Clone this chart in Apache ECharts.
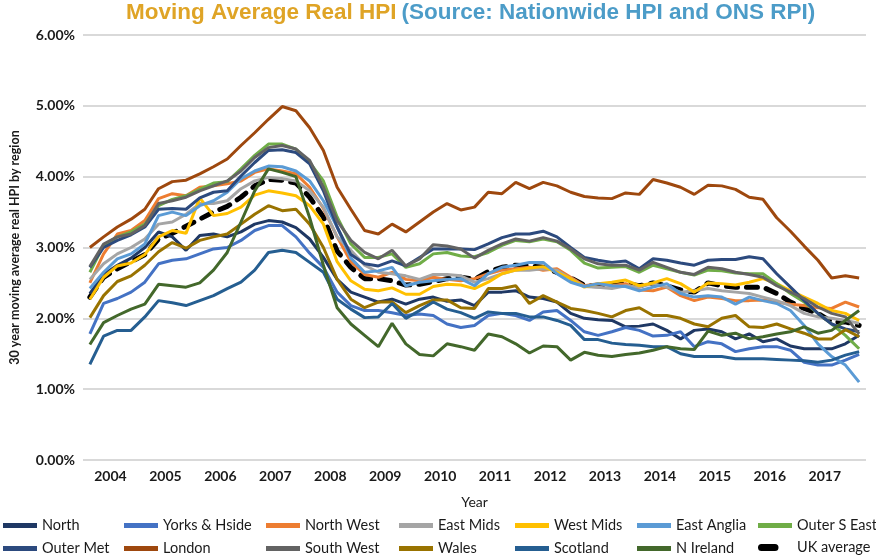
<!DOCTYPE html>
<html>
<head>
<meta charset="utf-8">
<script src="https://cdn.jsdelivr.net/npm/echarts@6/dist/echarts.min.js"></script>
<style>
  html, body { margin: 0; padding: 0; background: #ffffff; }
  #chart { width: 876px; height: 555px; }
</style>
</head>
<body>
<div id="chart"></div>
<script>
// Quarters (category labels)
const quarters = [
  '2004Q1','2004Q2','2004Q3','2004Q4','2005Q1','2005Q2','2005Q3','2005Q4',
  '2006Q1','2006Q2','2006Q3','2006Q4','2007Q1','2007Q2','2007Q3','2007Q4',
  '2008Q1','2008Q2','2008Q3','2008Q4','2009Q1','2009Q2','2009Q3','2009Q4',
  '2010Q1','2010Q2','2010Q3','2010Q4','2011Q1','2011Q2','2011Q3','2011Q4',
  '2012Q1','2012Q2','2012Q3','2012Q4','2013Q1','2013Q2','2013Q3','2013Q4',
  '2014Q1','2014Q2','2014Q3','2014Q4','2015Q1','2015Q2','2015Q3','2015Q4',
  '2016Q1','2016Q2','2016Q3','2016Q4','2017Q1','2017Q2','2017Q3','2017Q4',
  '2018Q1'
];
const yearLabels = [2004,2005,2006,2007,2008,2009,2010,2011,2012,2013,2014,2015,2016,2017];
const yTicks = [0,1,2,3,4,5,6];

// Series values (% real HPI, 30-year moving average)
const north = [2.35,2.62,2.75,2.85,3.00,3.22,3.15,2.96,3.17,3.19,3.15,3.22,3.33,3.38,3.36,3.28,3.12,2.86,2.55,2.37,2.30,2.23,2.27,2.20,2.27,2.30,2.24,2.26,2.18,2.37,2.37,2.39,2.30,2.28,2.23,2.07,2.00,1.98,1.97,1.88,1.89,1.92,1.83,1.71,1.83,1.85,1.81,1.71,1.78,1.67,1.71,1.61,1.57,1.57,1.57,1.64,1.76];
const yorks = [1.78,2.21,2.28,2.37,2.51,2.77,2.82,2.84,2.91,2.98,3.00,3.10,3.24,3.31,3.31,3.15,2.92,2.72,2.37,2.18,2.11,2.11,2.08,2.04,2.06,2.04,1.92,1.87,1.90,2.04,2.07,2.04,1.97,2.09,2.11,1.97,1.81,1.76,1.81,1.87,1.83,1.75,1.76,1.81,1.60,1.67,1.64,1.53,1.57,1.60,1.60,1.55,1.38,1.34,1.34,1.41,1.49];
const northWest = [2.50,2.91,3.19,3.24,3.38,3.69,3.76,3.73,3.85,3.87,3.90,3.94,4.06,4.11,4.08,4.04,3.85,3.55,3.15,2.80,2.62,2.58,2.65,2.55,2.53,2.58,2.55,2.53,2.56,2.63,2.68,2.70,2.72,2.68,2.70,2.58,2.46,2.49,2.46,2.49,2.40,2.39,2.44,2.32,2.25,2.30,2.28,2.25,2.25,2.26,2.23,2.20,2.18,2.15,2.14,2.23,2.16];
const eastMids = [2.55,2.77,2.91,3.00,3.12,3.33,3.36,3.47,3.62,3.62,3.66,3.83,3.94,3.99,3.97,3.94,3.80,3.57,3.15,2.96,2.75,2.65,2.63,2.60,2.55,2.62,2.62,2.60,2.51,2.56,2.63,2.68,2.68,2.70,2.68,2.56,2.45,2.44,2.42,2.46,2.44,2.49,2.44,2.37,2.39,2.42,2.39,2.37,2.35,2.30,2.25,2.18,2.07,2.02,2.00,1.97,1.93];
const westMids = [2.27,2.58,2.74,2.78,2.90,3.15,3.24,3.20,3.70,3.45,3.48,3.57,3.74,3.80,3.77,3.73,3.59,3.33,2.80,2.53,2.41,2.39,2.43,2.34,2.34,2.45,2.48,2.47,2.42,2.51,2.63,2.68,2.71,2.73,2.65,2.56,2.44,2.49,2.51,2.54,2.46,2.50,2.56,2.49,2.37,2.50,2.49,2.47,2.51,2.56,2.49,2.39,2.30,2.21,2.11,2.07,1.97];
const eastAnglia = [2.42,2.65,2.84,2.91,3.05,3.45,3.50,3.45,3.59,3.66,3.78,3.97,4.08,4.15,4.14,4.08,3.94,3.66,3.29,2.85,2.65,2.67,2.72,2.46,2.51,2.53,2.55,2.56,2.46,2.63,2.72,2.75,2.79,2.79,2.63,2.51,2.45,2.49,2.46,2.45,2.39,2.44,2.49,2.35,2.30,2.32,2.30,2.20,2.30,2.25,2.21,2.11,1.90,1.64,1.46,1.34,1.10];
const outerSEast = [2.65,3.03,3.15,3.22,3.33,3.59,3.68,3.73,3.82,3.91,3.93,4.11,4.30,4.46,4.46,4.39,4.20,3.94,3.43,3.05,2.86,2.86,2.91,2.72,2.77,2.91,2.93,2.88,2.87,2.93,3.03,3.10,3.08,3.12,3.08,2.96,2.78,2.71,2.72,2.73,2.65,2.75,2.70,2.65,2.61,2.68,2.67,2.64,2.63,2.63,2.49,2.35,2.23,2.07,1.92,1.76,1.57];
const outerMet = [2.72,3.00,3.10,3.18,3.29,3.54,3.55,3.54,3.70,3.78,3.80,4.01,4.20,4.37,4.38,4.34,4.18,3.80,3.29,2.90,2.77,2.74,2.81,2.74,2.86,2.98,2.98,2.98,2.97,3.05,3.14,3.19,3.19,3.23,3.15,3.00,2.86,2.82,2.79,2.81,2.70,2.84,2.82,2.78,2.75,2.82,2.83,2.83,2.87,2.84,2.63,2.44,2.25,2.07,1.92,1.85,1.81];
const london = [3.00,3.15,3.29,3.40,3.54,3.83,3.93,3.95,4.04,4.14,4.25,4.44,4.62,4.81,4.99,4.93,4.69,4.37,3.85,3.54,3.24,3.19,3.33,3.22,3.36,3.50,3.62,3.53,3.57,3.78,3.76,3.92,3.83,3.92,3.87,3.78,3.72,3.70,3.69,3.77,3.75,3.96,3.91,3.85,3.75,3.88,3.87,3.82,3.71,3.68,3.42,3.23,3.02,2.82,2.57,2.60,2.57];
const southWest = [2.73,3.05,3.15,3.19,3.31,3.62,3.66,3.71,3.80,3.87,3.94,4.08,4.27,4.41,4.44,4.39,4.23,3.85,3.38,3.10,2.93,2.84,2.96,2.74,2.84,3.04,3.02,2.98,2.85,2.96,3.05,3.12,3.09,3.14,3.09,2.98,2.84,2.77,2.75,2.75,2.68,2.79,2.72,2.65,2.62,2.72,2.70,2.65,2.62,2.58,2.46,2.37,2.28,2.16,2.07,2.02,1.78];
const wales = [2.01,2.32,2.52,2.60,2.75,2.94,3.07,2.99,3.10,3.15,3.19,3.33,3.47,3.59,3.52,3.54,3.33,3.00,2.55,2.27,2.15,2.23,2.23,2.08,2.18,2.26,2.26,2.15,2.14,2.42,2.42,2.46,2.21,2.32,2.23,2.14,2.11,2.07,2.02,2.11,2.15,2.04,2.04,2.00,1.92,1.88,2.00,2.04,1.88,1.87,1.92,1.85,1.79,1.71,1.71,1.84,1.74];
const scotland = [1.35,1.75,1.83,1.83,2.02,2.25,2.22,2.18,2.25,2.32,2.42,2.51,2.68,2.93,2.96,2.93,2.79,2.65,2.27,2.13,2.01,2.02,2.21,2.00,2.11,2.23,2.13,2.08,2.00,2.09,2.07,2.07,2.02,2.02,1.97,1.90,1.70,1.70,1.65,1.63,1.62,1.60,1.60,1.50,1.46,1.46,1.46,1.43,1.43,1.43,1.42,1.41,1.40,1.38,1.41,1.48,1.53];
const nIreland = [1.63,1.94,2.04,2.13,2.20,2.48,2.46,2.44,2.50,2.68,2.93,3.36,3.80,4.11,4.06,4.00,3.42,2.75,2.15,1.92,1.76,1.60,1.93,1.64,1.49,1.47,1.64,1.60,1.55,1.78,1.74,1.64,1.51,1.61,1.60,1.41,1.52,1.48,1.46,1.49,1.51,1.55,1.60,1.57,1.56,1.82,1.76,1.79,1.71,1.74,1.78,1.81,1.88,1.79,1.83,1.97,2.11];
const ukAverage = [2.30,2.58,2.70,2.80,2.90,3.12,3.20,3.30,3.40,3.50,3.58,3.71,3.87,3.96,3.95,3.91,3.71,3.43,2.95,2.72,2.56,2.56,2.53,2.47,2.48,2.52,2.56,2.58,2.55,2.66,2.72,2.75,2.74,2.72,2.65,2.57,2.47,2.46,2.46,2.49,2.46,2.50,2.46,2.40,2.37,2.50,2.46,2.44,2.44,2.44,2.35,2.23,2.14,2.07,1.95,1.95,1.90];

const seriesNames = ['North','Yorks & Hside','North West','East Mids','West Mids','East Anglia','Outer S East',
                     'Outer Met','London','South West','Wales','Scotland','N Ireland','UK average'];
const seriesValues = [north, yorks, northWest, eastMids, westMids, eastAnglia, outerSEast,
                      outerMet, london, southWest, wales, scotland, nIreland, ukAverage];
const seriesColors = ['#1F3864','#4472C4','#ED7D31','#A5A5A5','#FFC000','#5B9BD5','#70AD47',
                      '#2C4A7E','#9E480E','#636363','#997300','#255E91','#43682B','#000000'];

// quarter label -> x position on a continuous year scale (centre of the quarter)
function quarterX(q) {
  const y = parseInt(q.slice(0, 4), 10);
  const n = parseInt(q.slice(5), 10);
  return y + (n - 1) / 4 + 0.125;
}

const FONT = 'Lato';

const series = seriesNames.map((name, k) => {
  const isUK = name === 'UK average';
  return {
    name: name,
    type: 'line',
    data: seriesValues[k].map((v, i) => [quarterX(quarters[i]), v]),
    symbol: 'none',
    smooth: false,
    color: seriesColors[k],
    lineStyle: isUK
      ? { width: 5, type: [11, 9], cap: 'round', color: '#000' }
      : { width: 3, color: seriesColors[k] },
    z: 2
  };
});
// UK average is drawn underneath the regional lines
const ukSeries = series.pop();
series.unshift(ukSeries);

// Legend: one component per item so columns align as in the reference
const colText = [42, 163, 305, 438, 554, 676, 797];
const rowTop = [518, 541];
const legends = seriesNames.map((name, k) => {
  const col = k % 7, row = Math.floor(k / 7);
  const isUK = name === 'UK average';
  return {
    data: [{ name: name }],
    left: colText[col] - 39,
    top: rowTop[row] + (isUK ? -1 : 0),
    orient: 'horizontal',
    itemWidth: 34,
    itemHeight: isUK ? 7 : 5,
    itemGap: 0,
    icon: isUK ? 'path://M3.5,0 L17,0 A3.5,3.5 0 0 1 17,7 L3.5,7 A3.5,3.5 0 0 1 3.5,0 Z M34,0 L34,7' : 'rect',
    selectedMode: false,
    textStyle: { fontFamily: FONT, fontSize: 14.5, color: '#1a1a1a' },
    padding: 0
  };
});

const chart = echarts.init(document.getElementById('chart'), null, { renderer: 'canvas' });
chart.setOption({
  animation: false,
  backgroundColor: '#ffffff',
  title: {
    text: '{a|Moving Average Real HPI} {b|(Source: Nationwide HPI and ONS RPI)}',
    left: 126,
    top: 1,
    padding: 0,
    textStyle: {
      rich: {
        a: { color: '#DFA426', fontSize: 22.5, fontWeight: 'bold', fontFamily: 'Liberation Sans' },
        b: { color: '#4C9CC8', fontSize: 22.5, fontWeight: 'bold', fontFamily: 'Liberation Sans' }
      }
    }
  },
  legend: legends,
  grid: { left: 76, right: 10, top: 35, bottom: 95, containLabel: false },
  xAxis: {
    type: 'value',
    min: 2004,
    max: 2018.25,
    name: 'Year',
    nameLocation: 'middle',
    nameGap: 35,
    nameTextStyle: { fontFamily: FONT, fontSize: 14, color: '#1a1a1a' },
    axisLine: { show: false },
    axisTick: { show: false },
    splitLine: { show: false },
    axisLabel: {
      customValues: yearLabels.map(y => y + 0.5),
      formatter: v => String(Math.floor(v)),
      fontFamily: FONT,
      fontSize: 14,
      fontWeight: 'bold',
      color: '#1a1a1a',
      margin: 9
    }
  },
  yAxis: {
    type: 'value',
    min: yTicks[0],
    max: yTicks[yTicks.length - 1],
    interval: 1,
    name: '30 year moving average real HPI by region',
    nameLocation: 'middle',
    nameRotate: 90,
    nameGap: 62,
    nameTextStyle: { fontFamily: FONT, fontSize: 12.5, fontWeight: 'bold', color: '#1a1a1a' },
    axisLine: { show: false },
    axisTick: { show: false },
    axisLabel: {
      formatter: v => v.toFixed(2) + '%',
      fontFamily: FONT,
      fontSize: 14,
      fontWeight: 'bold',
      color: '#1a1a1a',
      margin: 8
    },
    splitLine: { lineStyle: { color: '#d9d9d9', width: 2 } }
  },
  series: series
});
</script>
</body>
</html>
